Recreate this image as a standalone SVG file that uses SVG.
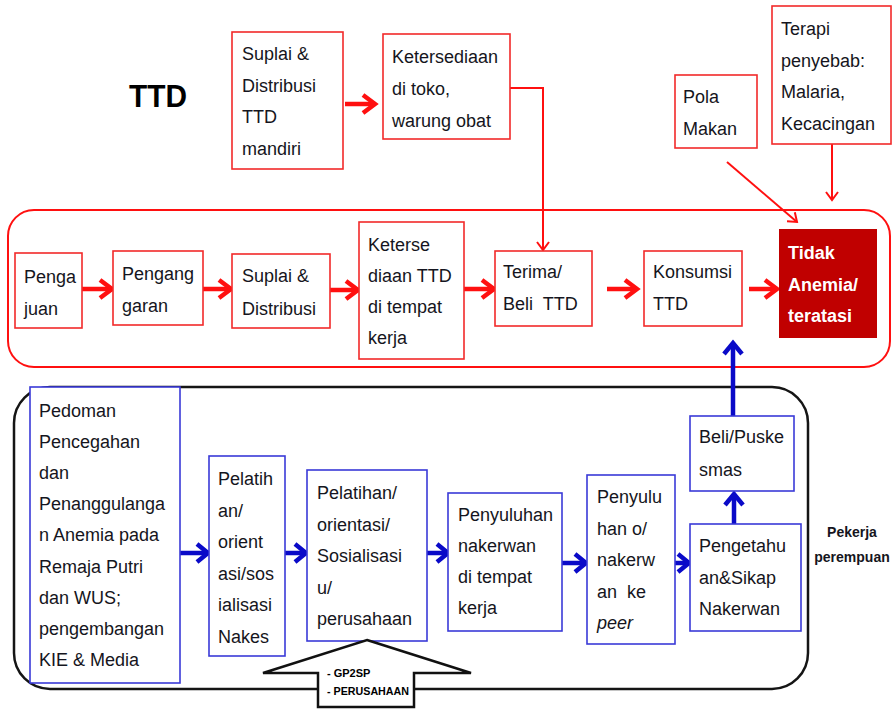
<svg xmlns="http://www.w3.org/2000/svg" width="895" height="710" viewBox="0 0 895 710">
  <style>
    text { font-family: "Liberation Sans", Arial, sans-serif; font-size: 18px; fill: #151520; }
    .rbox { fill: #ffffff; stroke: #f22a2a; stroke-width: 1.6; }
    .bbox { fill: #ffffff; stroke: #3a3ad8; stroke-width: 1.6; }
    .rarrow { fill: none; stroke: #ff1010; stroke-width: 4.5; marker-end: url(#headRed); }
    .rthin { fill: none; stroke: #ff1010; stroke-width: 2; marker-end: url(#headRedThin); }
    .barrow { fill: none; stroke: #0a0ac8; stroke-width: 4.5; marker-end: url(#headBlue); }
    .pre { white-space: pre; }
    .white { fill: #ffffff; font-weight: bold; }
    .small { font-size: 11px; font-weight: bold; fill: #000000; }
  </style>
  <defs>
    <marker id="headRed" markerUnits="userSpaceOnUse" viewBox="0 0 16 20" markerWidth="16" markerHeight="20" refX="14" refY="10" orient="auto" overflow="visible">
      <path d="M2,1 L14,10 L2,19" fill="none" stroke="#ff1010" stroke-width="4.5"/>
    </marker>
    <marker id="headRedThin" markerUnits="userSpaceOnUse" viewBox="0 0 10 14" markerWidth="10" markerHeight="14" refX="9" refY="7" orient="auto" overflow="visible">
      <path d="M1,1 L9,7 L1,13" fill="none" stroke="#ff1010" stroke-width="2"/>
    </marker>
    <marker id="headBlue" markerUnits="userSpaceOnUse" viewBox="0 0 16 20" markerWidth="16" markerHeight="20" refX="13" refY="10" orient="auto" overflow="visible">
      <path d="M2,1 L13,10 L2,19" fill="none" stroke="#0a0ac8" stroke-width="4.5"/>
    </marker>
  </defs>

  <rect width="895" height="710" fill="#ffffff"/>

  <!-- containers -->
  <rect id="frame-red" x="8" y="210" width="882" height="157" rx="26" ry="26" fill="none" stroke="#ff1010" stroke-width="2"/>
  <rect id="frame-black" x="14" y="387" width="794" height="302" rx="36" ry="36" fill="none" stroke="#151515" stroke-width="2.5"/>

  <text x="129" y="107" style="font-size:32px;font-weight:bold;fill:#000" textLength="58" lengthAdjust="spacingAndGlyphs">TTD</text>

  <!-- connectors -->
  <g id="connectors">
    <path class="rarrow" d="M345,104 L375,104"/>
    <path class="rthin" d="M510,88 L543,88 L543,250"/>
    <path class="rthin" d="M727,162 L797,222"/>
    <path class="rthin" d="M832,144 L832,200"/>
    <path class="rarrow" d="M82,289 L112,289"/>
    <path class="rarrow" d="M203,289 L231,289"/>
    <path class="rarrow" d="M330,290 L358,290"/>
    <path class="rarrow" d="M464,289 L494,289"/>
    <path class="rarrow" d="M607,289 L637,289"/>
    <path class="rarrow" d="M749,289 L777,289"/>
    <path class="barrow" d="M180,553 L208,553"/>
    <path class="barrow" d="M285,553 L306,553"/>
    <path class="barrow" d="M427,553 L448,553"/>
    <path class="barrow" d="M562,563 L586,563"/>
    <path class="barrow" d="M675,563 L689,563"/>
    <path class="barrow" d="M734,524 L734,494"/>
    <path class="barrow" d="M733,416 L733,343"/>
  </g>

  <!-- upper row -->
  <g id="suplai-mandiri">
    <rect class="rbox" x="232" y="32" width="111" height="137"/>
    <text x="242" y="60">Suplai &amp;<tspan x="242" dy="31.7">Distribusi</tspan><tspan x="242" dy="31.7">TTD</tspan><tspan x="242" dy="31.7">mandiri</tspan></text>
  </g>
  <g id="ketersediaan-toko">
    <rect class="rbox" x="383" y="34" width="127" height="105"/>
    <text x="392" y="63">Ketersediaan<tspan x="392" dy="32">di toko,</tspan><tspan x="392" dy="32">warung obat</tspan></text>
  </g>
  <g id="pola-makan">
    <rect class="rbox" x="675" y="75" width="82" height="73"/>
    <text x="683" y="103">Pola<tspan x="683" dy="32">Makan</tspan></text>
  </g>
  <g id="terapi">
    <rect class="rbox" x="772" y="6" width="119" height="138"/>
    <text x="781" y="35">Terapi<tspan x="781" dy="31.7">penyebab:</tspan><tspan x="781" dy="31.7">Malaria,</tspan><tspan x="781" dy="31.7">Kecacingan</tspan></text>
  </g>

  <!-- red flow -->
  <g id="pengajuan">
    <rect class="rbox" x="15" y="253" width="67" height="75"/>
    <text x="24" y="283">Penga<tspan x="24" dy="32">juan</tspan></text>
  </g>
  <g id="penganggaran">
    <rect class="rbox" x="113" y="251" width="90" height="74"/>
    <text x="122" y="280">Pengang<tspan x="122" dy="32">garan</tspan></text>
  </g>
  <g id="suplai-distribusi">
    <rect class="rbox" x="232" y="254" width="98" height="74"/>
    <text x="242" y="282">Suplai &amp;<tspan x="242" dy="33">Distribusi</tspan></text>
  </g>
  <g id="ketersediaan-kerja">
    <rect class="rbox" x="359" y="222" width="105" height="137"/>
    <text x="368" y="251">Keterse<tspan x="368" dy="31">diaan TTD</tspan><tspan x="368" dy="31">di tempat</tspan><tspan x="368" dy="31">kerja</tspan></text>
  </g>
  <g id="terima-beli">
    <rect class="rbox" x="495" y="251" width="97" height="75"/>
    <text x="503" y="278">Terima/<tspan x="503" dy="32" class="pre">Beli  TTD</tspan></text>
  </g>
  <g id="konsumsi">
    <rect class="rbox" x="644" y="251" width="98" height="75"/>
    <text x="653" y="278">Konsumsi<tspan x="653" dy="32">TTD</tspan></text>
  </g>
  <g id="tidak-anemia">
    <rect x="779" y="229" width="98" height="109" fill="#c00000"/>
    <text x="788" y="259" class="white">Tidak<tspan x="788" dy="32">Anemia/</tspan><tspan x="788" dy="31">teratasi</tspan></text>
  </g>

  <!-- blue flow -->
  <g id="pedoman">
    <rect class="bbox" x="30" y="387" width="150" height="296"/>
    <text x="39" y="417">Pedoman<tspan x="39" dy="31.1">Pencegahan</tspan><tspan x="39" dy="31.1">dan</tspan><tspan x="39" dy="31.1">Penanggulanga</tspan><tspan x="39" dy="31.1">n Anemia pada</tspan><tspan x="39" dy="31.1">Remaja Putri</tspan><tspan x="39" dy="31.1">dan WUS;</tspan><tspan x="39" dy="31.1">pengembangan</tspan><tspan x="39" dy="31.1">KIE &amp; Media</tspan></text>
  </g>
  <g id="pelatihan-nakes">
    <rect class="bbox" x="209" y="456" width="76" height="200"/>
    <text x="218" y="485">Pelatih<tspan x="218" dy="31.5">an/</tspan><tspan x="218" dy="31.5">orient</tspan><tspan x="218" dy="31.5">asi/sos</tspan><tspan x="218" dy="31.5">ialisasi</tspan><tspan x="218" dy="31.5">Nakes</tspan></text>
  </g>
  <g id="pelatihan-perusahaan">
    <rect class="bbox" x="307" y="470" width="120" height="171"/>
    <text x="317" y="499">Pelatihan/<tspan x="317" dy="31.5">orientasi/</tspan><tspan x="317" dy="31.5">Sosialisasi</tspan><tspan x="317" dy="31.5">u/</tspan><tspan x="317" dy="31.5">perusahaan</tspan></text>
  </g>
  <g id="penyuluhan-nakerwan">
    <rect class="bbox" x="448" y="493" width="114" height="138"/>
    <text x="458" y="521">Penyuluhan<tspan x="458" dy="31">nakerwan</tspan><tspan x="458" dy="31">di tempat</tspan><tspan x="458" dy="31">kerja</tspan></text>
  </g>
  <g id="penyuluhan-peer">
    <rect class="bbox" x="587" y="475" width="88" height="169"/>
    <text x="597" y="503">Penyulu<tspan x="597" dy="31.5">han o/</tspan><tspan x="597" dy="31.5">nakerw</tspan><tspan x="597" dy="31.5" class="pre">an  ke</tspan><tspan x="597" dy="31.5" font-style="italic">peer</tspan></text>
  </g>
  <g id="pengetahuan-sikap">
    <rect class="bbox" x="690" y="524" width="111" height="107"/>
    <text x="699" y="552">Pengetahu<tspan x="699" dy="31.5">an&amp;Sikap</tspan><tspan x="699" dy="31.5">Nakerwan</tspan></text>
  </g>
  <g id="beli-puskesmas">
    <rect class="bbox" x="690" y="416" width="104" height="75"/>
    <text x="699" y="443">Beli/Puske<tspan x="699" dy="33">smas</tspan></text>
  </g>

  <g id="pekerja-perempuan">
    <text x="852" y="537" text-anchor="middle" style="font-size:14px;font-weight:bold">Pekerja<tspan x="852" dy="25">perempuan</tspan></text>
  </g>

  <!-- supporting input arrow -->
  <g id="gp2sp-perusahaan">
    <polygon points="367,640 471,673 414,673 414,707 318,707 318,673 263,673" fill="#ffffff" stroke="#111111" stroke-width="2.5" stroke-linejoin="miter"/>
    <text x="327" y="677" class="small">- GP2SP</text>
    <text x="327" y="695" class="small" textLength="82" lengthAdjust="spacingAndGlyphs">- PERUSAHAAN</text>
  </g>
</svg>
